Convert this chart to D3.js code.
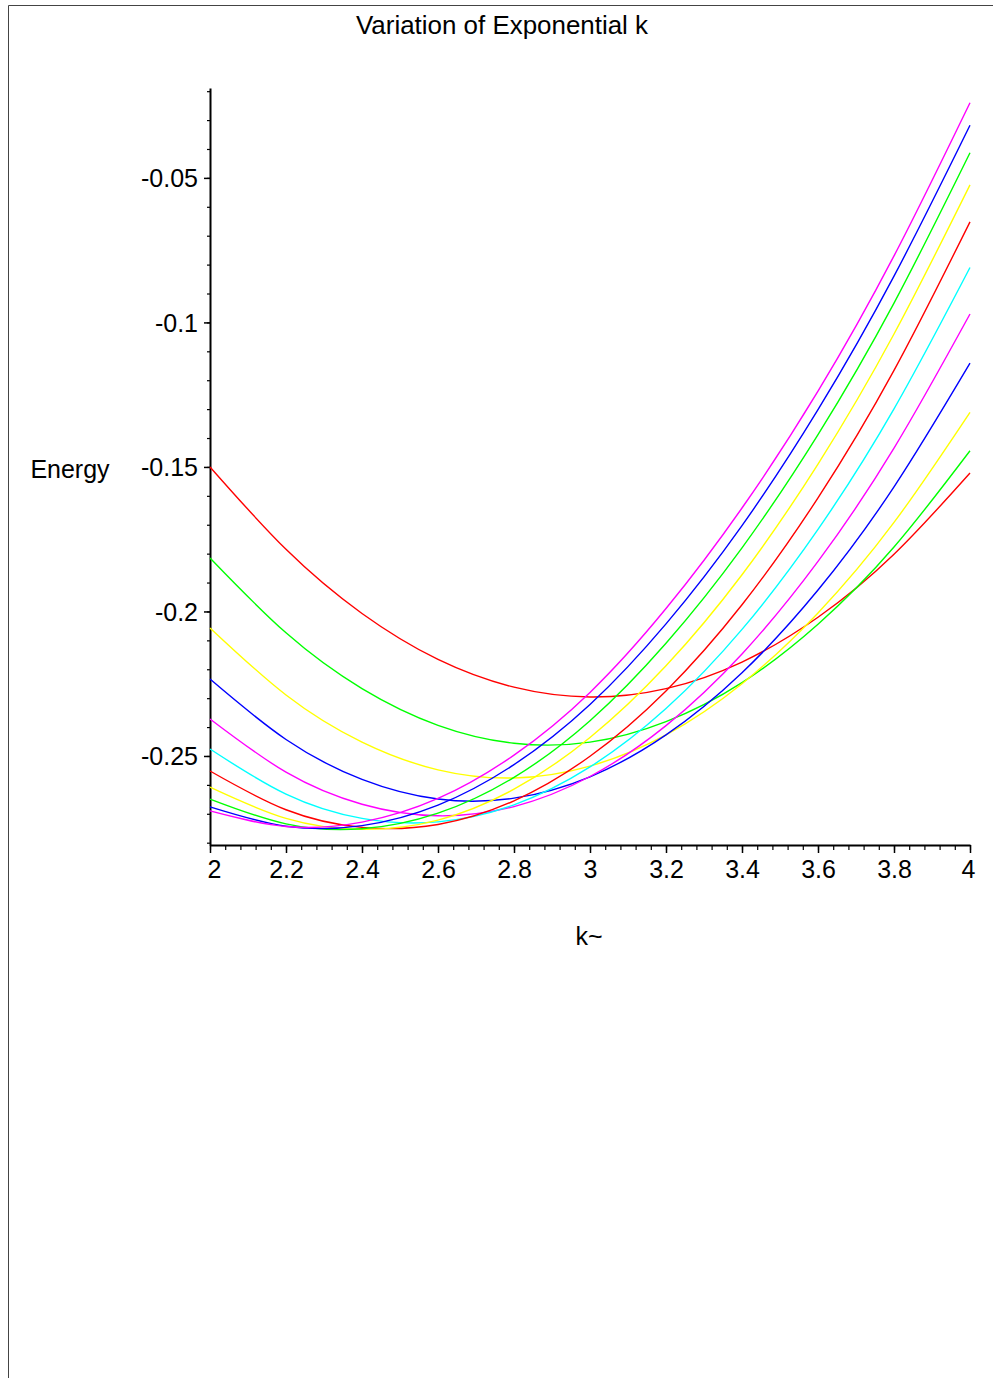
<!DOCTYPE html>
<html>
<head>
<meta charset="utf-8">
<script src="https://cdn.jsdelivr.net/npm/d3@7"></script>
<style>
  html, body { margin: 0; padding: 0; background: #fff; }
  svg { display: block; }
  text { font-family: "Liberation Sans", Arial, sans-serif; fill: #000; }
</style>
</head>
<body>
<svg id="chart" width="993" height="1378"></svg>
<script>
// ---- data ----
const titleText = "Variation of Exponential k";
const xTitle = "k~";
const yTitle = "Energy";

const kValues = [2.0, 2.2, 2.4, 2.6, 2.8, 3.0, 3.2, 3.4, 3.6, 3.8, 4.0];

const energy1  = [-0.1500, -0.1785, -0.2007, -0.2166, -0.2262, -0.2296, -0.2267, -0.2175, -0.2020, -0.1802, -0.1521];
const energy2  = [-0.1815, -0.2074, -0.2267, -0.2394, -0.2456, -0.2452, -0.2381, -0.2246, -0.2044, -0.1777, -0.1444];
const energy3  = [-0.2057, -0.2289, -0.2452, -0.2548, -0.2576, -0.2535, -0.2427, -0.2250, -0.2005, -0.1692, -0.1311];
const energy4  = [-0.2234, -0.2443, -0.2581, -0.2649, -0.2646, -0.2572, -0.2427, -0.2212, -0.1926, -0.1569, -0.1141];
const energy5  = [-0.2372, -0.2556, -0.2667, -0.2707, -0.2675, -0.2571, -0.2395, -0.2147, -0.1827, -0.1435, -0.0971];
const energy6  = [-0.2476, -0.2632, -0.2716, -0.2728, -0.2669, -0.2538, -0.2336, -0.2062, -0.1716, -0.1299, -0.0810];
const energy7  = [-0.2552, -0.2686, -0.2747, -0.2737, -0.2655, -0.2501, -0.2275, -0.1977, -0.1607, -0.1166, -0.0652];
const energy8  = [-0.2608, -0.2716, -0.2754, -0.2722, -0.2615, -0.2436, -0.2188, -0.1873, -0.1490, -0.1040, -0.0524];
const energy9  = [-0.2649, -0.2735, -0.2752, -0.2698, -0.2574, -0.2378, -0.2110, -0.1780, -0.1388, -0.0933, -0.0413];
const energy10 = [-0.2676, -0.2743, -0.2741, -0.2670, -0.2530, -0.2322, -0.2043, -0.1703, -0.1302, -0.0840, -0.0318];
const energy11 = [-0.2690, -0.2744, -0.2729, -0.2647, -0.2497, -0.2280, -0.1990, -0.1642, -0.1238, -0.0770, -0.0240];

const seriesColors = ["#ff0000", "#00ff00", "#ffff00", "#0000ff", "#ff00ff", "#00ffff",
                      "#ff0000", "#ffff00", "#00ff00", "#0000ff", "#ff00ff"];

const xMajorTicks = [2, 2.2, 2.4, 2.6, 2.8, 3, 3.2, 3.4, 3.6, 3.8, 4];
const xTickLabels = ["2", "2.2", "2.4", "2.6", "2.8", "3", "3.2", "3.4", "3.6", "3.8", "4"];
const yMajorTicks = [-0.25, -0.2, -0.15, -0.1, -0.05];
const yTickLabels = ["-0.25", "-0.2", "-0.15", "-0.1", "-0.05"];

const xDomain = [2, 4];
const yDomain = [-0.2808, -0.0189];

// ---- drawing ----
const allSeries = [energy1, energy2, energy3, energy4, energy5, energy6,
                   energy7, energy8, energy9, energy10, energy11];

const svg = d3.select("#chart");

// page frame (top and left rules)
svg.append("line").attr("x1", 8.5).attr("x2", 993).attr("y1", 5.5).attr("y2", 5.5)
  .attr("stroke", "#444").attr("stroke-width", 1);
svg.append("line").attr("x1", 8.5).attr("x2", 8.5).attr("y1", 5.5).attr("y2", 1378)
  .attr("stroke", "#444").attr("stroke-width", 1);

const x = d3.scaleLinear().domain(xDomain).range([210, 970]);
const y = d3.scaleLinear().domain(yDomain).range([845, 88]);

// minor ticks
const xMinor = d3.range(2, 4.0001, 0.04).map(v => +v.toFixed(2));
const yMinor = d3.range(-0.28, -0.0189, 0.01).map(v => +v.toFixed(2));

svg.append("g").attr("transform", "translate(0,845)")
  .call(d3.axisBottom(x).tickValues(xMinor).tickSize(5).tickSizeOuter(0).tickFormat(""))
  .call(g => g.select(".domain").remove())
  .call(g => g.selectAll("line").attr("stroke", "#000").attr("stroke-width", 1.2));

svg.append("g").attr("transform", "translate(210,0)")
  .call(d3.axisLeft(y).tickValues(yMinor).tickSize(3).tickSizeOuter(0).tickFormat(""))
  .call(g => g.select(".domain").remove())
  .call(g => g.selectAll("line").attr("stroke", "#000").attr("stroke-width", 1.2));

// major ticks + labels
const xAxis = svg.append("g").attr("transform", "translate(0,845)")
  .call(d3.axisBottom(x).tickValues(xMajorTicks).tickSize(8).tickSizeOuter(0)
    .tickFormat((d, i) => xTickLabels[i]));
xAxis.select(".domain").attr("stroke", "#000").attr("stroke-width", 2);
xAxis.selectAll("line").attr("stroke", "#000").attr("stroke-width", 1.5);
xAxis.selectAll("text").attr("font-size", 25).attr("dy", null).attr("y", 33)
  .attr("font-family", "'Liberation Sans', Arial, sans-serif").attr("fill", "#000");
xAxis.selectAll(".tick").filter(d => d === 2).select("text").attr("x", 4);
xAxis.selectAll(".tick").filter(d => d === 4).select("text").attr("x", -2);

const yAxis = svg.append("g").attr("transform", "translate(210,0)")
  .call(d3.axisLeft(y).tickValues(yMajorTicks).tickSize(6).tickSizeOuter(0)
    .tickFormat((d, i) => yTickLabels[i]));
yAxis.select(".domain").attr("stroke", "#000").attr("stroke-width", 2);
yAxis.selectAll("line").attr("stroke", "#000").attr("stroke-width", 1.5);
yAxis.selectAll("text").attr("font-size", 25).attr("x", -12).attr("dy", "0.35em")
  .attr("font-family", "'Liberation Sans', Arial, sans-serif").attr("fill", "#000");

// curves
const line = d3.line()
  .x((d, i) => x(kValues[i]))
  .y(d => y(d))
  .curve(d3.curveNatural);

svg.append("g").selectAll("path")
  .data(allSeries)
  .join("path")
  .attr("d", d => line(d))
  .attr("fill", "none")
  .attr("stroke", (d, i) => seriesColors[i])
  .attr("stroke-width", 1.4);

// titles
svg.append("text").attr("x", 502).attr("y", 34).attr("text-anchor", "middle")
  .attr("font-size", 25).attr("textLength", 292).attr("lengthAdjust", "spacingAndGlyphs")
  .text(titleText);
svg.append("text").attr("x", 70).attr("y", 478).attr("text-anchor", "middle")
  .attr("font-size", 25).text(yTitle);
svg.append("text").attr("x", 589).attr("y", 945).attr("text-anchor", "middle")
  .attr("font-size", 25).text(xTitle);
</script>
</body>
</html>
